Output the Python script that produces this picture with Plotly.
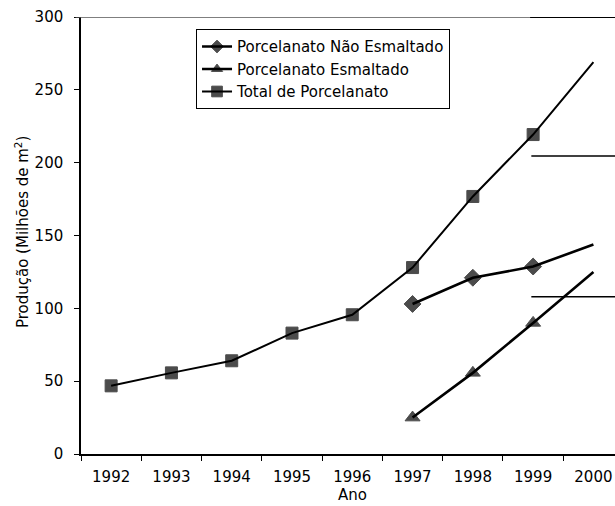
import plotly.graph_objects as go

anos = ["1992", "1993", "1994", "1995", "1996", "1997", "1998", "1999", "2000"]
total = [46.8, 55.7, 64.0, 83.0, 95.6, 128.0, 176.8, 219.3, 269.0]
anos_rec = ["1997", "1998", "1999", "2000"]
nao_esmaltado = [103.0, 121.0, 128.7, 143.8]
esmaltado = [25.0, 55.7, 90.0, 125.0]
right_rules = [204.5, 108.0]

FONT = "DejaVu Sans"
FS = 15

def sizes(n, s):
    return [s] * (n - 1) + [0]

mk_line = dict(color="black", width=1)

fig = go.Figure()
fig.add_trace(go.Scatter(
    x=anos_rec, y=nao_esmaltado, mode="lines+markers", name="Porcelanato Não Esmaltado",
    line=dict(color="black", width=2.6),
    marker=dict(symbol="diamond", size=sizes(len(anos_rec), 13), color="black", line=mk_line),
))
fig.add_trace(go.Scatter(
    x=anos_rec, y=esmaltado, mode="lines+markers", name="Porcelanato Esmaltado",
    line=dict(color="black", width=2.6),
    marker=dict(symbol="triangle-up", size=sizes(len(anos_rec), 13), color="black", line=mk_line),
))
fig.add_trace(go.Scatter(
    x=anos, y=total, mode="lines+markers", name="Total de Porcelanato",
    line=dict(color="black", width=2),
    marker=dict(symbol="square", size=sizes(len(anos), 12), color="black", line=mk_line),
))

# top border line and right-side rule segments
fig.add_shape(type="line", xref="paper", yref="y", x0=-0.01, x1=1, y0=300, y1=300,
              line=dict(color="#555", width=1.5))
fig.add_shape(type="line", xref="x", yref="y", x0=6.95, x1=8.4, y0=300, y1=300,
              line=dict(color="black", width=2))
for v in right_rules:
    fig.add_shape(type="line", xref="x", yref="y", x0=6.97, x1=8.4, y0=v, y1=v,
                  line=dict(color="black", width=1.5))

# axis titles
fig.add_annotation(text="Ano", xref="paper", yref="paper", x=0.5075, y=-0.094,
                   xanchor="center", yanchor="middle", showarrow=False,
                   font=dict(family=FONT, size=15, color="black"))
fig.add_annotation(text="Produção (Milhões de m<sup>2</sup>)", xref="paper", yref="paper",
                   x=-0.1105, y=0.51, xanchor="center", yanchor="middle", textangle=-90,
                   showarrow=False, font=dict(family=FONT, size=15, color="black"))

fig.update_layout(
    width=615, height=506,
    margin=dict(l=81, r=0, t=17, b=52),
    paper_bgcolor="white", plot_bgcolor="white",
    font=dict(family=FONT, size=FS, color="black"),
    showlegend=True,
    legend=dict(
        x=0.2154, y=0.972, xanchor="left", yanchor="top",
        bordercolor="black", borderwidth=1, bgcolor="white",
        font=dict(family=FONT, size=FS, color="black"),
        tracegroupgap=0, itemwidth=30,
    ),
    xaxis=dict(
        type="category", categoryorder="array", categoryarray=anos,
        range=[-0.5, 8.358], tickson="boundaries", automargin=False,
        showline=True, linecolor="black", linewidth=1.5,
        ticks="outside", ticklen=5, tickcolor="black", tickwidth=1,
        showgrid=False, zeroline=False,
        tickfont=dict(family=FONT, size=FS), ticklabelstandoff=8,
    ),
    yaxis=dict(
        range=[0, 300], tickvals=[0, 50, 100, 150, 200, 250, 300], automargin=False,
        showline=True, linecolor="black", linewidth=1.5,
        ticks="outside", ticklen=5, tickcolor="black", tickwidth=1,
        showgrid=False, zeroline=False,
        tickfont=dict(family=FONT, size=FS), ticklabelstandoff=8,
    ),
)

fig.write_html("out.html",
               config={"displayModeBar": False},
               post_script="document.body.style.margin='0';document.body.style.overflow='hidden';")
